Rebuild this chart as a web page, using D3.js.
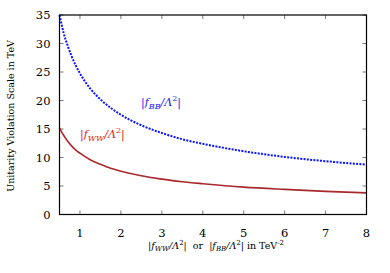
<!DOCTYPE html>
<html>
<head>
<meta charset="utf-8">
<script src="https://cdn.jsdelivr.net/npm/d3@7"></script>
<style>
  body { margin: 0; background: #fff; }
</style>
</head>
<body>
<svg id="drawing_region"></svg>
<script>
// values
const xs      = [0.5, 0.55, 0.6, 0.7, 0.8, 0.9, 1, 1.25, 1.5, 1.75, 2, 2.5, 3, 3.5, 4, 5, 6, 7, 8];
const f_BB    = [35, 33.4, 31.9, 29.6, 27.7, 26.1, 24.75, 22.1, 20.2, 18.7, 17.5, 15.65, 14.3, 13.2, 12.4, 11.1, 10.1, 9.35, 8.75];
const f_WW    = [15.2, 14.5, 13.9, 12.85, 12.0, 11.3, 10.75, 9.6, 8.8, 8.1, 7.6, 6.8, 6.2, 5.75, 5.4, 4.8, 4.4, 4.06, 3.8];
const xticks  = [1, 2, 3, 4, 5, 6, 7, 8];
const yticks  = [0, 5, 10, 15, 20, 25, 30, 35];

const config = {
    width: 390,
    height: 273,
    margin: {top:15, right:23.5, bottom:58.5, left:59.5}
};

const serif = 'DejaVu Serif';

const svg = d3.select('#drawing_region')
    .attr('width', config.width)
    .attr('height', config.height);

const inner_width = config.width - config.margin.left - config.margin.right;
const inner_height = config.height - config.margin.top - config.margin.bottom;

const chart = svg.append('g')
    .attr('transform', `translate(${config.margin.left}, ${config.margin.top})`);

const xscale = d3.scaleLinear()
    .domain([0.5, 8])
    .range([0, inner_width]);

const yscale = d3.scaleLinear()
    .domain([0, 35])
    .range([inner_height, 0]);

// inner ticks on all four sides
const tick_color = '#777';
const tl = 4;
chart.selectAll('.xt').data(xticks).enter().append('g').each(function(d) {
    const g = d3.select(this);
    const x = xscale(d);
    g.append('line').attr('x1', x).attr('x2', x).attr('y1', inner_height).attr('y2', inner_height - tl)
        .attr('stroke', tick_color);
    g.append('line').attr('x1', x).attr('x2', x).attr('y1', 0).attr('y2', tl)
        .attr('stroke', tick_color);
});
chart.selectAll('.yt').data(yticks).enter().append('g').each(function(d) {
    const g = d3.select(this);
    const y = yscale(d);
    g.append('line').attr('x1', 0).attr('x2', tl).attr('y1', y).attr('y2', y)
        .attr('stroke', tick_color);
    g.append('line').attr('x1', inner_width).attr('x2', inner_width - tl).attr('y1', y).attr('y2', y)
        .attr('stroke', tick_color);
});

// tick labels
chart.selectAll('.xl').data(xticks).enter().append('text')
    .attr('font-family', serif)
    .attr('x', d => xscale(d))
    .attr('y', inner_height + 22)
    .attr('text-anchor', 'middle')
    .attr('font-size', 11.5)
    .text(d => d);

chart.selectAll('.yl').data(yticks).enter().append('text')
    .attr('font-family', serif)
    .attr('x', -9)
    .attr('y', d => yscale(d) + 4)
    .attr('text-anchor', 'end')
    .attr('font-size', 11.5)
    .text(d => d);

// curves
const line = (ys) => d3.line()
    .x((d, i) => xscale(xs[i]))
    .y(d => yscale(d))
    .curve(d3.curveMonotoneX)(ys);

chart.append('path')
    .attr('d', line(f_WW))
    .attr('fill', 'none')
    .attr('stroke', '#a8282c')
    .attr('stroke-width', 1.6);

chart.append('path')
    .attr('d', line(f_BB))
    .attr('fill', 'none')
    .attr('stroke', '#0a14ff')
    .attr('stroke-width', 2)
    .attr('stroke-dasharray', '2,1.3');

// frame
chart.append('rect')
    .attr('width', inner_width)
    .attr('height', inner_height)
    .attr('fill', 'none')
    .attr('stroke', '#000')
    .attr('stroke-width', 1.2);

// curve labels
function label(x, y, sub, color) {
    const t = svg.append('text')
        .attr('font-family', serif)
        .attr('x', x).attr('y', y)
        .attr('font-size', 11)
        .attr('fill', color);
    t.append('tspan').text('|');
    t.append('tspan').attr('font-style', 'italic').text('f');
    t.append('tspan').attr('font-style', 'italic').attr('font-size', 8).attr('dy', 3).text(sub);
    t.append('tspan').attr('font-style', 'italic').attr('dy', -3).text('/Λ');
    t.append('tspan').attr('font-size', 8).attr('dy', -5).text('2');
    t.append('tspan').attr('dy', 5).text('|');
}
label(141, 106, 'BB', '#2020f0');
label(80, 138, 'WW', '#e82020');

// axis titles
const xt = svg.append('text')
    .attr('font-family', serif)
    .attr('x', 216).attr('y', 249)
    .attr('text-anchor', 'middle')
    .attr('font-size', 9.5)
    .style('white-space', 'pre');
xt.append('tspan').text('|');
xt.append('tspan').attr('font-style', 'italic').text('f');
xt.append('tspan').attr('font-style', 'italic').attr('font-size', 7).attr('dy', 2).text('WW');
xt.append('tspan').attr('font-style', 'italic').attr('dy', -2).text('/Λ');
xt.append('tspan').attr('font-size', 7).attr('dy', -4).text('2');
xt.append('tspan').attr('dy', 4).text('|  or  |');
xt.append('tspan').attr('font-style', 'italic').text('f');
xt.append('tspan').attr('font-style', 'italic').attr('font-size', 7).attr('dy', 2).text('BB');
xt.append('tspan').attr('font-style', 'italic').attr('dy', -2).text('/Λ');
xt.append('tspan').attr('font-size', 7).attr('dy', -4).text('2');
xt.append('tspan').attr('dy', 4).text('| in TeV');
xt.append('tspan').attr('font-size', 7).attr('dy', -4).text('-2');

svg.append('text')
    .attr('font-family', serif)
    .attr('transform', 'translate(14, 116) rotate(-90)')
    .attr('text-anchor', 'middle')
    .attr('font-size', 9.5)
    .text('Unitarity Violation Scale in TeV');
</script>
</body>
</html>
